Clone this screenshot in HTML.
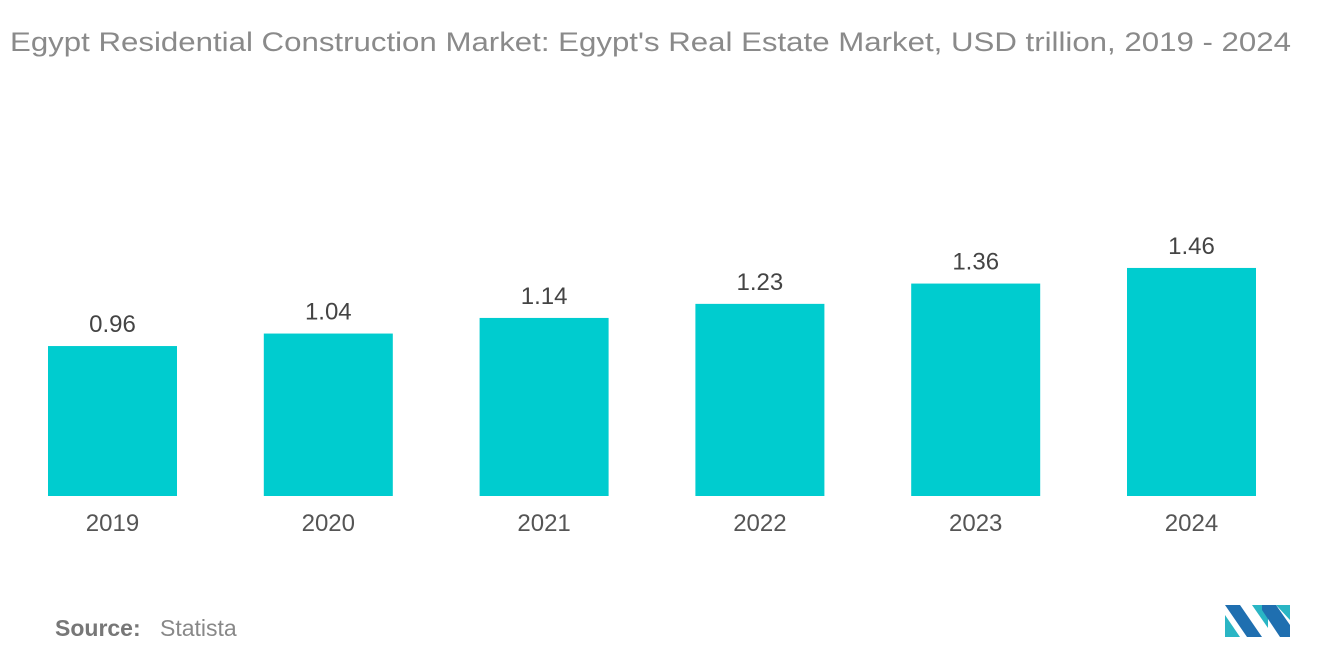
<!DOCTYPE html>
<html><head><meta charset="utf-8"><style>
body{margin:0;width:1320px;height:665px;background:#fff;font-family:"Liberation Sans",sans-serif;overflow:hidden}
</style></head><body>
<svg width="1320" height="665">
<text x="10" y="51" font-size="27" fill="#8a8a8a" textLength="1281" lengthAdjust="spacingAndGlyphs">Egypt Residential Construction Market: Egypt's Real Estate Market, USD trillion, 2019 - 2024</text>
<g id="bars"></g>
<text x="55" y="636" font-size="23" fill="#777" font-weight="bold">Source:</text>
<text x="160" y="636" font-size="23" fill="#888">Statista</text>
<g>
<polygon points="1225,605 1240,605 1262,637 1247,637" fill="#1f6fb0"/>
<polygon points="1225,615 1240,637 1225,637" fill="#2ab5c4"/>
<polygon points="1252,605 1268,628 1268,605" fill="#2ab5c4"/>
<polygon points="1262,605 1276,605 1290,625 1290,637 1280,637 1262,610" fill="#1f6fb0"/>
<polygon points="1276,605 1290,605 1290,620" fill="#2ab5c4"/>
</g>
</svg>
<script>
const categories=["2019","2020","2021","2022","2023","2024"];
const values=[0.96,1.04,1.14,1.23,1.36,1.46];
const labels=["0.96","1.04","1.14","1.23","1.36","1.46"];
const g=document.getElementById('bars');
const ns='http://www.w3.org/2000/svg';
const base=496,scale=156.2,x0=48,step=215.8,bw=129;
const y=v=>base-v*scale;
categories.forEach((c,i)=>{
 const x=x0+i*step;
 const r=document.createElementNS(ns,'rect');
 
 
 r.setAttribute('x',x);r.setAttribute('y',y(values[i]));r.setAttribute('width',bw);r.setAttribute('height',base-y(values[i]));r.setAttribute('fill','#00cccf');
 g.appendChild(r);
 const t=document.createElementNS(ns,'text');
 
 
 t.setAttribute('x',x+bw/2);t.setAttribute('y',y(values[i])-14);t.setAttribute('text-anchor','middle');t.setAttribute('font-size','24');t.setAttribute('fill','#444');
 t.textContent=labels[i];g.appendChild(t);
 const a=document.createElementNS(ns,'text');
 
 
 a.setAttribute('x',x+bw/2);a.setAttribute('y',531);a.setAttribute('text-anchor','middle');a.setAttribute('font-size','24');a.setAttribute('fill','#555');
 a.textContent=c;g.appendChild(a);
});
</script>
</body></html>
